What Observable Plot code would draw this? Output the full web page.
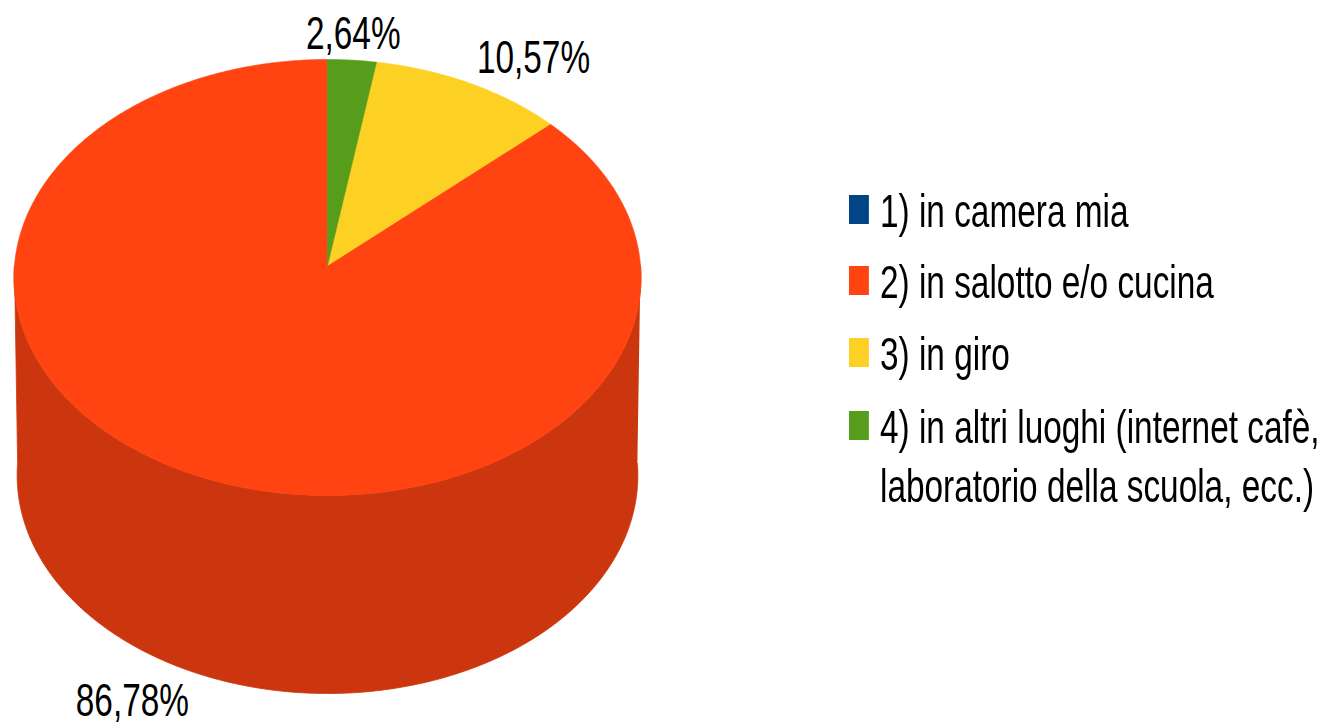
<!DOCTYPE html>
<html><head><meta charset="utf-8">
<script src="https://cdn.jsdelivr.net/npm/d3@7"></script>
<script src="https://cdn.jsdelivr.net/npm/@observablehq/plot@0.6"></script>
<style>
html,body{margin:0;padding:0;background:#fff;}
#wrap{position:relative;width:1328px;height:727px;overflow:hidden;font-family:"Liberation Sans",Arial,sans-serif;}
#wrap svg{position:absolute;left:0;top:0;}
#legend{position:absolute;left:849px;top:0;transform:scaleX(0.71);transform-origin:0 0;}
.row{position:absolute;white-space:nowrap;font-size:47px;line-height:47px;color:#000;}
.sw{position:absolute;left:0;width:28px;height:29px;}
</style></head><body><div id="wrap"></div>
<script>
// ---- data ----
const categories = [
  "1) in camera mia",
  "2) in salotto e/o cucina",
  "3) in giro",
  "4) in altri luoghi (internet cafè,\nlaboratorio della scuola, ecc.)"
];
const values = [0, 86.78, 10.57, 2.64];
const valueLabels = ["0,00%", "86,78%", "10,57%", "2,64%"];
const colors = ["#004586", "#ff4411", "#fdd123", "#579d1c"];

// ---- layout / 3D view ----
const W = 1328, Hh = 727;
const cx = 327, cy = 265, unit = 313;
const SX = 0.71;                 // horizontal condensing of text
const sinP = 0.6944, cosP = 0.7194, D = 13.07;
const HS = 198 / unit;           // wall height (screen units)
const BS = 0.99;                 // slight shrink of the bottom rim

function proj(X, Y) {
  const depth = D - Y * cosP;
  const k = D / depth;
  return {u: X * k, v: Y * sinP * k};
}
function projB(X, Y) {
  const p = proj(X, Y);
  return {u: p.u * BS, v: p.v + HS};
}
function rim(a, b, f, R = 1) {
  const n = Math.max(2, Math.ceil((b - a) / 0.5));
  return d3.range(n + 1).map(i => {
    const t = (a + (b - a) * i / n) * Math.PI / 180;
    return f(R * Math.sin(t), -R * Math.cos(t));
  });
}

const total = d3.sum(values);
let acc = 0;
const slices = values.map((v, i) => {
  const s = acc, e = acc + v / total * 360;
  acc = e;
  return {i, value: v, ta: 360 - e, tb: 360 - s, color: colors[i], label: valueLabels[i]};
});

const marks = [];
// side walls (front half only)
for (const sl of slices) {
  const a = Math.max(sl.ta, 90), b = Math.min(sl.tb, 270);
  if (sl.value > 0 && a < b) {
    const pts = [...rim(a, b, proj), ...rim(a, b, projB).reverse()];
    const side = d3.color(sl.color).darker(0.626).formatHex();
    marks.push(Plot.line(pts, {x: "u", y: "v", fill: side, stroke: side, strokeWidth: 0.8}));
  }
}
// top faces
for (const sl of slices) {
  if (sl.value <= 0) continue;
  const c0 = proj(0, 0);
  const pts = [c0, ...rim(sl.ta, sl.tb, proj), c0];
  marks.push(Plot.line(pts, {x: "u", y: "v", fill: sl.color, stroke: sl.color, strokeWidth: 0.6}));
}
// value labels
const ctx = document.createElement("canvas").getContext("2d");
ctx.font = '47px "Liberation Sans", Arial, sans-serif';
const textW = s => ctx.measureText(s).width * SX;
const labelData = slices.filter(s => s.value > 0).map(sl => {
  const t = ((sl.ta + sl.tb) / 2) * Math.PI / 180;
  const X = Math.sin(t), Y = -Math.cos(t);
  const f = Y > 0 ? projB : proj, R = 1.05;
  const an = f(R * X, R * Y), c0 = f(0, 0);
  let dx = an.u - c0.u, dy = an.v - c0.v;
  const len = Math.hypot(dx, dy); dx /= len; dy /= len;
  const fx = Math.abs(dx) < 0.38 ? 0 : Math.sign(dx);
  const fy = Math.abs(dy) < 0.38 ? 0 : Math.sign(dy);
  return {u: an.u + fx * textW(sl.label) / 2 / unit, v: an.v + fy * 17 / unit, text: sl.label};
});
marks.push(Plot.text(labelData, {x: "u", y: "v", text: "text", textAnchor: "middle", lineAnchor: "middle",
  fontSize: 47, fontFamily: '"Liberation Sans", Arial, sans-serif', fill: "#000"}));

const svg = Plot.plot({
  width: W, height: Hh, margin: 0,
  x: {domain: [-cx / unit, (W - cx) / unit], range: [0, W], axis: null},
  y: {domain: [-cy / unit, (Hh - cy) / unit], range: [0, Hh], axis: null},
  style: {background: "transparent", overflow: "visible"},
  marks
});
// condense label text horizontally
svg.querySelectorAll("text").forEach(t => {
  const s = t.textContent;
  if (!s) return;
  t.setAttribute("textLength", textW(s).toFixed(1));
  t.setAttribute("lengthAdjust", "spacingAndGlyphs");
});
const wrap = document.getElementById("wrap");
wrap.appendChild(svg);

// legend
const baselines = [227, 298, 370, 443];
const legend = d3.select(wrap).append("div").attr("id", "legend");
categories.forEach((c, i) => {
  legend.append("div").attr("class", "sw")
    .style("top", (baselines[i] - 32) + "px").style("background", colors[i]);
  c.split("\n").forEach((line, j) => {
    legend.append("div").attr("class", "row")
      .style("left", (31 / SX) + "px")
      .style("top", (baselines[i] + j * 59 - 39.8) + "px")
      .text(line);
  });
});
</script></body></html>
